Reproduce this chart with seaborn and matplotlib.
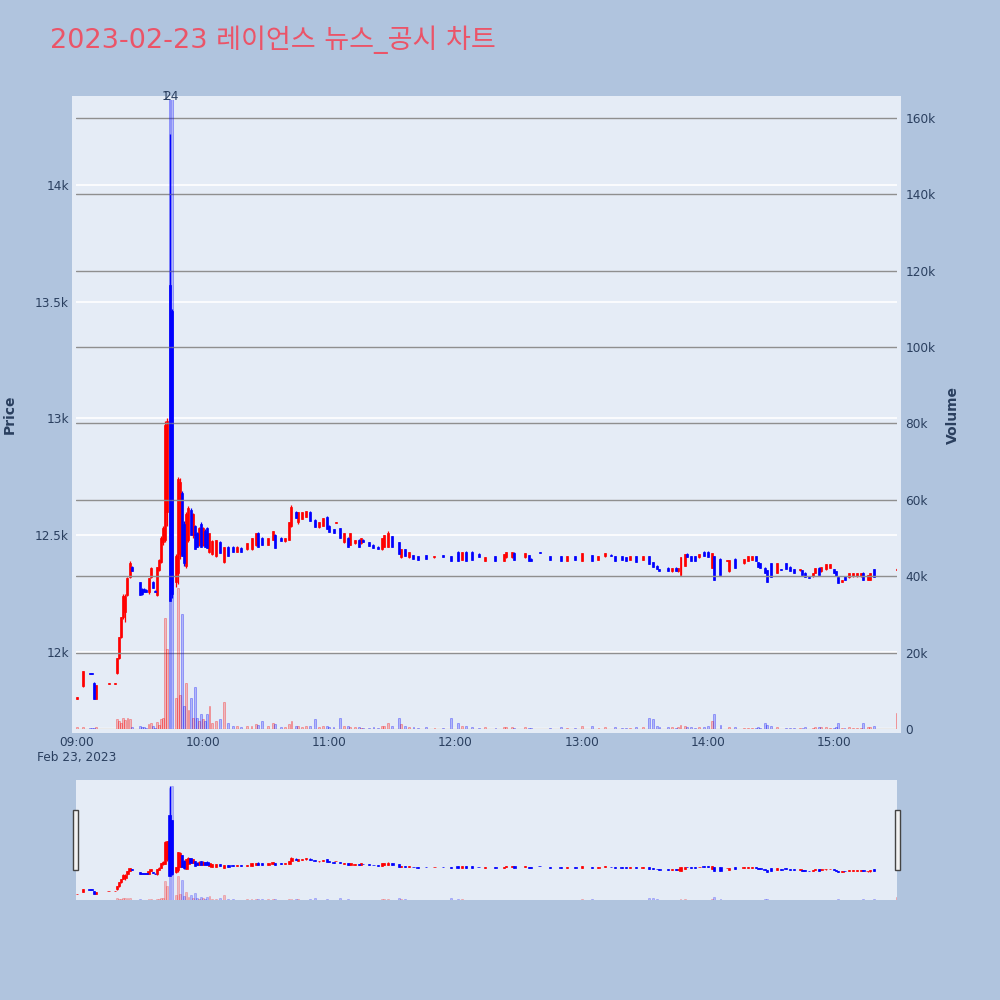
import numpy as np
import pandas as pd
import matplotlib
matplotlib.use("Agg")
import matplotlib.pyplot as plt
import seaborn as sns
from matplotlib.colors import to_rgba
from matplotlib.patches import Rectangle

TITLE = "2023-02-23 레이언스 뉴스_공시 차트"

# minutes after 09:00, one row per traded minute
minute = [0, 3, 6, 7, 8, 9, 15, 18, 19, 20, 21, 22, 23, 24, 25, 26,
          30, 31, 32, 33, 34, 35, 36, 37, 38, 39, 40, 41, 42, 43, 44, 45,
          47, 48, 49, 50, 51, 52, 53, 54, 55, 56, 57, 58, 59, 60, 61, 62,
          63, 64, 66, 68, 70, 72, 74, 76, 78, 81, 83, 85, 86, 88, 91, 93,
          94, 97, 99, 101, 102, 104, 105, 107, 109, 111, 113, 115, 117, 119, 120, 122,
          123, 125, 127, 129, 130, 132, 134, 135, 136, 139, 141, 143, 145, 146, 148, 150,
          153, 154, 156, 158, 160, 162, 166, 170, 174, 178, 181, 183, 185, 188, 191, 194,
          199, 203, 204, 207, 208, 213, 215, 216, 220, 225, 230, 233, 237, 240, 245, 248,
          251, 254, 256, 259, 261, 263, 266, 269, 272, 274, 276, 277, 281, 283, 285, 286,
          287, 289, 290, 292, 294, 296, 298, 300, 302, 303, 306, 309, 310, 313, 317, 319,
          321, 323, 324, 325, 327, 328, 330, 333, 335, 337, 339, 341, 344, 345, 346, 348,
          350, 351, 353, 354, 356, 358, 360, 361, 362, 364, 365, 367, 369, 371, 373, 374,
          376, 377, 379, 390]

open_ = [11800, 11855, 11910, 11910, 11865, 11800, 11862, 11862, 11910, 11975, 12065, 12150, 12170, 12245, 12320, 12365,
         12300, 12270, 12270, 12265, 12255, 12320, 12300, 12262, 12245, 12350, 12385, 12470, 12480, 12600, 13570, 13460,
         12300, 12340, 12420, 12680, 12550, 12370, 12480, 12610, 12500, 12540, 12510, 12460, 12550, 12460, 12520, 12530,
         12430, 12420, 12410, 12470, 12385, 12450, 12450, 12430, 12445, 12440, 12440, 12460, 12510, 12490, 12460, 12480,
         12500, 12490, 12475, 12480, 12540, 12600, 12555, 12570, 12580, 12600, 12565, 12535, 12540, 12580, 12540, 12525,
         12552, 12530, 12470, 12490, 12460, 12465, 12480, 12465, 12480, 12470, 12460, 12450, 12440, 12450, 12450, 12495,
         12470, 12405, 12440, 12405, 12415, 12410, 12415, 12405, 12415, 12410, 12430, 12395, 12430, 12430, 12420, 12390,
         12410, 12390, 12405, 12405, 12425, 12405, 12415, 12400, 12426, 12410, 12410, 12390, 12410, 12390, 12415, 12395,
         12410, 12416, 12410, 12410, 12405, 12395, 12410, 12395, 12410, 12385, 12370, 12355, 12360, 12345, 12360, 12345,
         12330, 12370, 12420, 12410, 12410, 12405, 12430, 12430, 12360, 12410, 12400, 12388, 12345, 12400, 12380, 12390,
         12395, 12410, 12385, 12380, 12360, 12350, 12380, 12340, 12355, 12380, 12365, 12355, 12350, 12350, 12340, 12322,
         12325, 12340, 12360, 12345, 12355, 12360, 12355, 12345, 12320, 12300, 12325, 12320, 12325, 12325, 12325, 12340,
         12310, 12310, 12355, 12352]

high = [11808, 11920, 11910, 11910, 11870, 11860, 11866, 11866, 11975, 12065, 12150, 12250, 12250, 12320, 12390, 12370,
        12300, 12275, 12275, 12268, 12315, 12365, 12305, 12265, 12365, 12400, 12495, 12540, 12990, 13000, 14220, 13470,
        12420, 12750, 12745, 12690, 12560, 12600, 12625, 12615, 12595, 12545, 12515, 12535, 12555, 12535, 12525, 12535,
        12510, 12480, 12480, 12475, 12450, 12455, 12452, 12452, 12448, 12465, 12490, 12510, 12515, 12492, 12490, 12520,
        12505, 12492, 12490, 12555, 12628, 12605, 12600, 12600, 12605, 12605, 12568, 12555, 12575, 12582, 12542, 12527,
        12556, 12532, 12510, 12492, 12510, 12480, 12482, 12490, 12482, 12472, 12462, 12452, 12490, 12500, 12520, 12497,
        12472, 12440, 12442, 12430, 12417, 12412, 12417, 12410, 12416, 12412, 12432, 12430, 12432, 12432, 12422, 12405,
        12412, 12420, 12430, 12430, 12427, 12425, 12417, 12402, 12428, 12412, 12412, 12410, 12412, 12425, 12417, 12410,
        12425, 12418, 12412, 12412, 12407, 12410, 12412, 12410, 12412, 12387, 12372, 12357, 12362, 12360, 12362, 12360,
        12405, 12420, 12422, 12412, 12412, 12420, 12432, 12432, 12425, 12412, 12402, 12392, 12395, 12402, 12400, 12410,
        12410, 12412, 12387, 12382, 12362, 12352, 12382, 12380, 12357, 12382, 12367, 12357, 12355, 12352, 12342, 12324,
        12340, 12360, 12362, 12365, 12375, 12375, 12357, 12347, 12322, 12310, 12327, 12340, 12340, 12340, 12340, 12342,
        12330, 12340, 12357, 12358]

low = [11800, 11850, 11905, 11905, 11800, 11800, 11862, 11862, 11905, 11970, 12060, 12140, 12130, 12240, 12315, 12345,
       12245, 12245, 12255, 12255, 12250, 12315, 12275, 12255, 12240, 12345, 12380, 12460, 12470, 12540, 12220, 12230,
       12280, 12290, 12400, 12410, 12370, 12360, 12470, 12500, 12490, 12440, 12450, 12455, 12450, 12455, 12450, 12445,
       12425, 12415, 12405, 12425, 12380, 12410, 12430, 12428, 12430, 12438, 12435, 12455, 12450, 12460, 12458, 12478,
       12445, 12475, 12473, 12478, 12535, 12575, 12550, 12568, 12578, 12560, 12535, 12533, 12538, 12525, 12515, 12510,
       12552, 12490, 12468, 12450, 12458, 12463, 12450, 12463, 12470, 12455, 12445, 12440, 12438, 12448, 12448, 12450,
       12420, 12403, 12410, 12403, 12400, 12395, 12400, 12404, 12405, 12390, 12390, 12393, 12390, 12395, 12405, 12388,
       12390, 12388, 12403, 12403, 12395, 12403, 12390, 12390, 12424, 12395, 12390, 12388, 12395, 12388, 12390, 12393,
       12408, 12413, 12390, 12395, 12390, 12393, 12385, 12393, 12375, 12365, 12355, 12345, 12345, 12343, 12345, 12343,
       12328, 12368, 12405, 12390, 12390, 12403, 12410, 12405, 12358, 12310, 12330, 12388, 12343, 12360, 12378, 12388,
       12393, 12390, 12365, 12360, 12340, 12300, 12320, 12338, 12350, 12355, 12345, 12340, 12348, 12330, 12320, 12318,
       12323, 12338, 12330, 12343, 12353, 12358, 12340, 12325, 12295, 12298, 12310, 12318, 12323, 12323, 12323, 12310,
       12308, 12308, 12320, 12352]

close = [11806, 11920, 11905, 11905, 11800, 11860, 11866, 11866, 11975, 12065, 12150, 12240, 12240, 12318, 12380, 12345,
         12245, 12250, 12255, 12258, 12315, 12360, 12275, 12258, 12365, 12395, 12490, 12530, 12970, 12990, 12220, 12250,
         12410, 12740, 12730, 12410, 12380, 12590, 12615, 12500, 12590, 12440, 12450, 12530, 12450, 12530, 12450, 12445,
         12510, 12475, 12480, 12425, 12450, 12410, 12430, 12450, 12430, 12465, 12490, 12510, 12450, 12460, 12490, 12520,
         12445, 12475, 12490, 12555, 12620, 12575, 12600, 12600, 12605, 12560, 12535, 12555, 12575, 12525, 12515, 12510,
         12556, 12490, 12510, 12450, 12510, 12480, 12450, 12490, 12470, 12455, 12445, 12440, 12490, 12500, 12510, 12450,
         12420, 12440, 12410, 12430, 12400, 12395, 12400, 12410, 12405, 12390, 12390, 12430, 12390, 12395, 12405, 12405,
         12390, 12420, 12430, 12430, 12395, 12425, 12390, 12390, 12424, 12395, 12390, 12410, 12395, 12425, 12390, 12410,
         12425, 12413, 12390, 12395, 12390, 12410, 12385, 12410, 12375, 12365, 12355, 12345, 12345, 12360, 12345, 12360,
         12405, 12420, 12405, 12390, 12390, 12420, 12410, 12405, 12425, 12310, 12330, 12392, 12395, 12360, 12400, 12410,
         12410, 12390, 12365, 12360, 12340, 12300, 12320, 12380, 12350, 12355, 12345, 12340, 12355, 12330, 12320, 12318,
         12340, 12360, 12330, 12365, 12375, 12375, 12340, 12325, 12295, 12310, 12310, 12340, 12340, 12340, 12340, 12310,
         12330, 12340, 12320, 12356]

volume = [500, 400, 150, 150, 300, 600, 100, 100, 2500, 2000, 1500, 2800, 2400, 3000, 2700, 600,
          800, 500, 400, 300, 1200, 1500, 700, 200, 1800, 1000, 2500, 3000, 29000, 21000, 172000, 175000,
          8000, 37000, 9000, 30000, 6000, 12000, 5000, 8000, 3000, 11000, 3000, 2000, 4000, 2500, 2000, 4000,
          6000, 1500, 2000, 2500, 7000, 1500, 800, 700, 600, 900, 800, 1200, 1000, 2200, 800, 1500,
          1200, 500, 400, 1200, 2000, 900, 800, 600, 700, 900, 2500, 500, 700, 800, 600, 400,
          100, 3000, 700, 800, 600, 400, 500, 300, 200, 300, 400, 300, 800, 900, 1500, 700,
          3000, 1200, 800, 500, 400, 300, 600, 200, 300, 3000, 1500, 900, 700, 600, 300, 400,
          300, 500, 400, 600, 300, 400, 300, 200, 100, 300, 500, 300, 300, 900, 800, 300,
          400, 100, 400, 300, 300, 300, 600, 400, 3000, 2500, 800, 500, 600, 400, 300, 400,
          1000, 800, 500, 400, 300, 400, 500, 700, 2000, 4000, 1000, 100, 600, 500, 300, 300,
          200, 300, 400, 300, 1500, 1000, 700, 400, 100, 300, 300, 300, 200, 300, 400, 100,
          300, 400, 500, 400, 500, 300, 300, 400, 1500, 200, 300, 400, 300, 300, 200, 1500,
          400, 600, 800, 4200]

# labels printed above the two clipped volume bars
bar_text_minute = [42.1, 44.7]
bar_text = ["1", "24"]

price_ticks = [12000, 12500, 13000, 13500, 14000]
price_labels = ["12k", "12.5k", "13k", "13.5k", "14k"]
vol_ticks = [0, 20000, 40000, 60000, 80000, 100000, 120000, 140000, 160000]
vol_labels = ["0", "20k", "40k", "60k", "80k", "100k", "120k", "140k", "160k"]
time_ticks = [0, 60, 120, 180, 240, 300, 360]
time_labels = ["09:00\nFeb 23, 2023", "10:00", "11:00", "12:00", "13:00", "14:00", "15:00"]

UP = "#ff0000"
DOWN = "#0000ff"
PAPER = "#B0C4DE"
PLOT_BG = "#E5ECF6"
TEXT = "#2a3f5f"

df = pd.DataFrame({"minute": minute, "open": open_, "high": high,
                   "low": low, "close": close, "volume": volume})
df["dir"] = np.where(df["close"] >= df["open"], "up", "down")

sns.set_theme(style="white")
plt.rcParams["font.family"] = ["DejaVu Sans", "Noto Sans CJK KR"]

XLIM = (-0.48, 389.96)
PRICE_LIM = (11670, 14364)
VOL_LIM = (0, 164700)


def draw_candles(ax, body_w, wick_lw, edge_lw):
    for key, col in (("up", UP), ("down", DOWN)):
        d = df[df["dir"] == key]
        ax.vlines(d["minute"], d["low"], d["high"], color=col, lw=wick_lw, zorder=3)
        ax.bar(d["minute"], d["close"] - d["open"], bottom=d["open"], width=body_w,
               color=col, edgecolor=col, linewidth=edge_lw, zorder=3)


def draw_volume(ax, lw):
    for key, col in (("up", UP), ("down", DOWN)):
        d = df[df["dir"] == key]
        sns.histplot(x=d["minute"], weights=d["volume"], discrete=True, shrink=0.9,
                     color=col, alpha=0.22, edgecolor=to_rgba(col, 0.35),
                     linewidth=lw, ax=ax, legend=False)


fig = plt.figure(figsize=(10, 10), dpi=100, facecolor=PAPER)
# plot background is a little larger than the axes domain
fig.patches.append(Rectangle((0.072, 0.267), 0.829, 0.637, transform=fig.transFigure,
                             facecolor=PLOT_BG, edgecolor="none", zorder=-5))

# main price axes
ax = fig.add_axes([0.076, 0.271, 0.821, 0.629])
ax.set_facecolor(PLOT_BG)
draw_candles(ax, 0.95, 0.9, 0.5)
ax.set_xlim(*XLIM)
ax.set_ylim(*PRICE_LIM)
ax.set_yticks(price_ticks)
ax.set_yticklabels(price_labels)
ax.set_xticks(time_ticks)
ax.set_xticklabels(time_labels)
ax.grid(axis="y", color="white", lw=1.2)
ax.grid(axis="x", visible=False)
ax.set_axisbelow(True)
ax.tick_params(axis="both", length=0, labelsize=8.7, labelcolor=TEXT)
ax.tick_params(axis="y", pad=5)
ax.tick_params(axis="x", pad=5)
for s in ax.spines.values():
    s.set_visible(False)

# volume on the right axis, drawn over the candles
ax2 = ax.twinx()
draw_volume(ax2, 0.6)
ax2.set_xlim(*XLIM)
ax2.set_ylim(*VOL_LIM)
ax2.set_yticks(vol_ticks)
ax2.set_yticklabels(vol_labels)
ax2.grid(axis="y", color="#8f8f8f", lw=1.0)
ax2.grid(axis="x", visible=False)
ax2.axhline(0, color="white", lw=2.5, zorder=0)
ax2.set_ylabel("")
ax2.set_xlabel("")
ax.set_xlabel("")
ax2.tick_params(axis="y", length=0, pad=6, labelsize=8.7, labelcolor=TEXT)
for s in ax2.spines.values():
    s.set_visible(False)
for xm, s in zip(bar_text_minute, bar_text):
    ax2.text(xm, VOL_LIM[1] + 1000, s, ha="center", va="center", fontsize=8.7,
             color=TEXT, clip_on=False)

# range slider
axs = fig.add_axes([0.076, 0.100, 0.821, 0.120])
axs.set_facecolor(PLOT_BG)
draw_candles(axs, 1.1, 0.9, 0.5)
axs.set_xlim(*XLIM)
axs.set_ylim(*PRICE_LIM)
axs.set_xticks([])
axs.set_yticks([])
axs.set_xlabel("")
for s in axs.spines.values():
    s.set_visible(False)
axs2 = axs.twinx()
draw_volume(axs2, 0.4)
axs2.set_xlim(*XLIM)
axs2.set_ylim(0, max(volume) * 1.05)
axs2.set_yticks([])
axs2.set_ylabel("")
axs2.set_xlabel("")
for s in axs2.spines.values():
    s.set_visible(False)
axs.set_xlabel("")

for hx in (0.073, 0.895):
    fig.patches.append(Rectangle((hx, 0.130), 0.0045, 0.060, transform=fig.transFigure,
                                 facecolor="#f2f2f2", edgecolor="#444444", lw=1, zorder=5))

fig.text(0.05, 0.960, TITLE, color="#EB5468", fontsize=19.5, ha="left", va="center")
fig.text(0.010, 0.5855, "Price", rotation=90, ha="center", va="center",
         fontsize=10, fontweight="bold", color=TEXT)
fig.text(0.953, 0.5855, "Volume", rotation=90, ha="center", va="center",
         fontsize=10, fontweight="bold", color=TEXT)

fig.savefig("out.png", dpi=100, facecolor=fig.get_facecolor())
